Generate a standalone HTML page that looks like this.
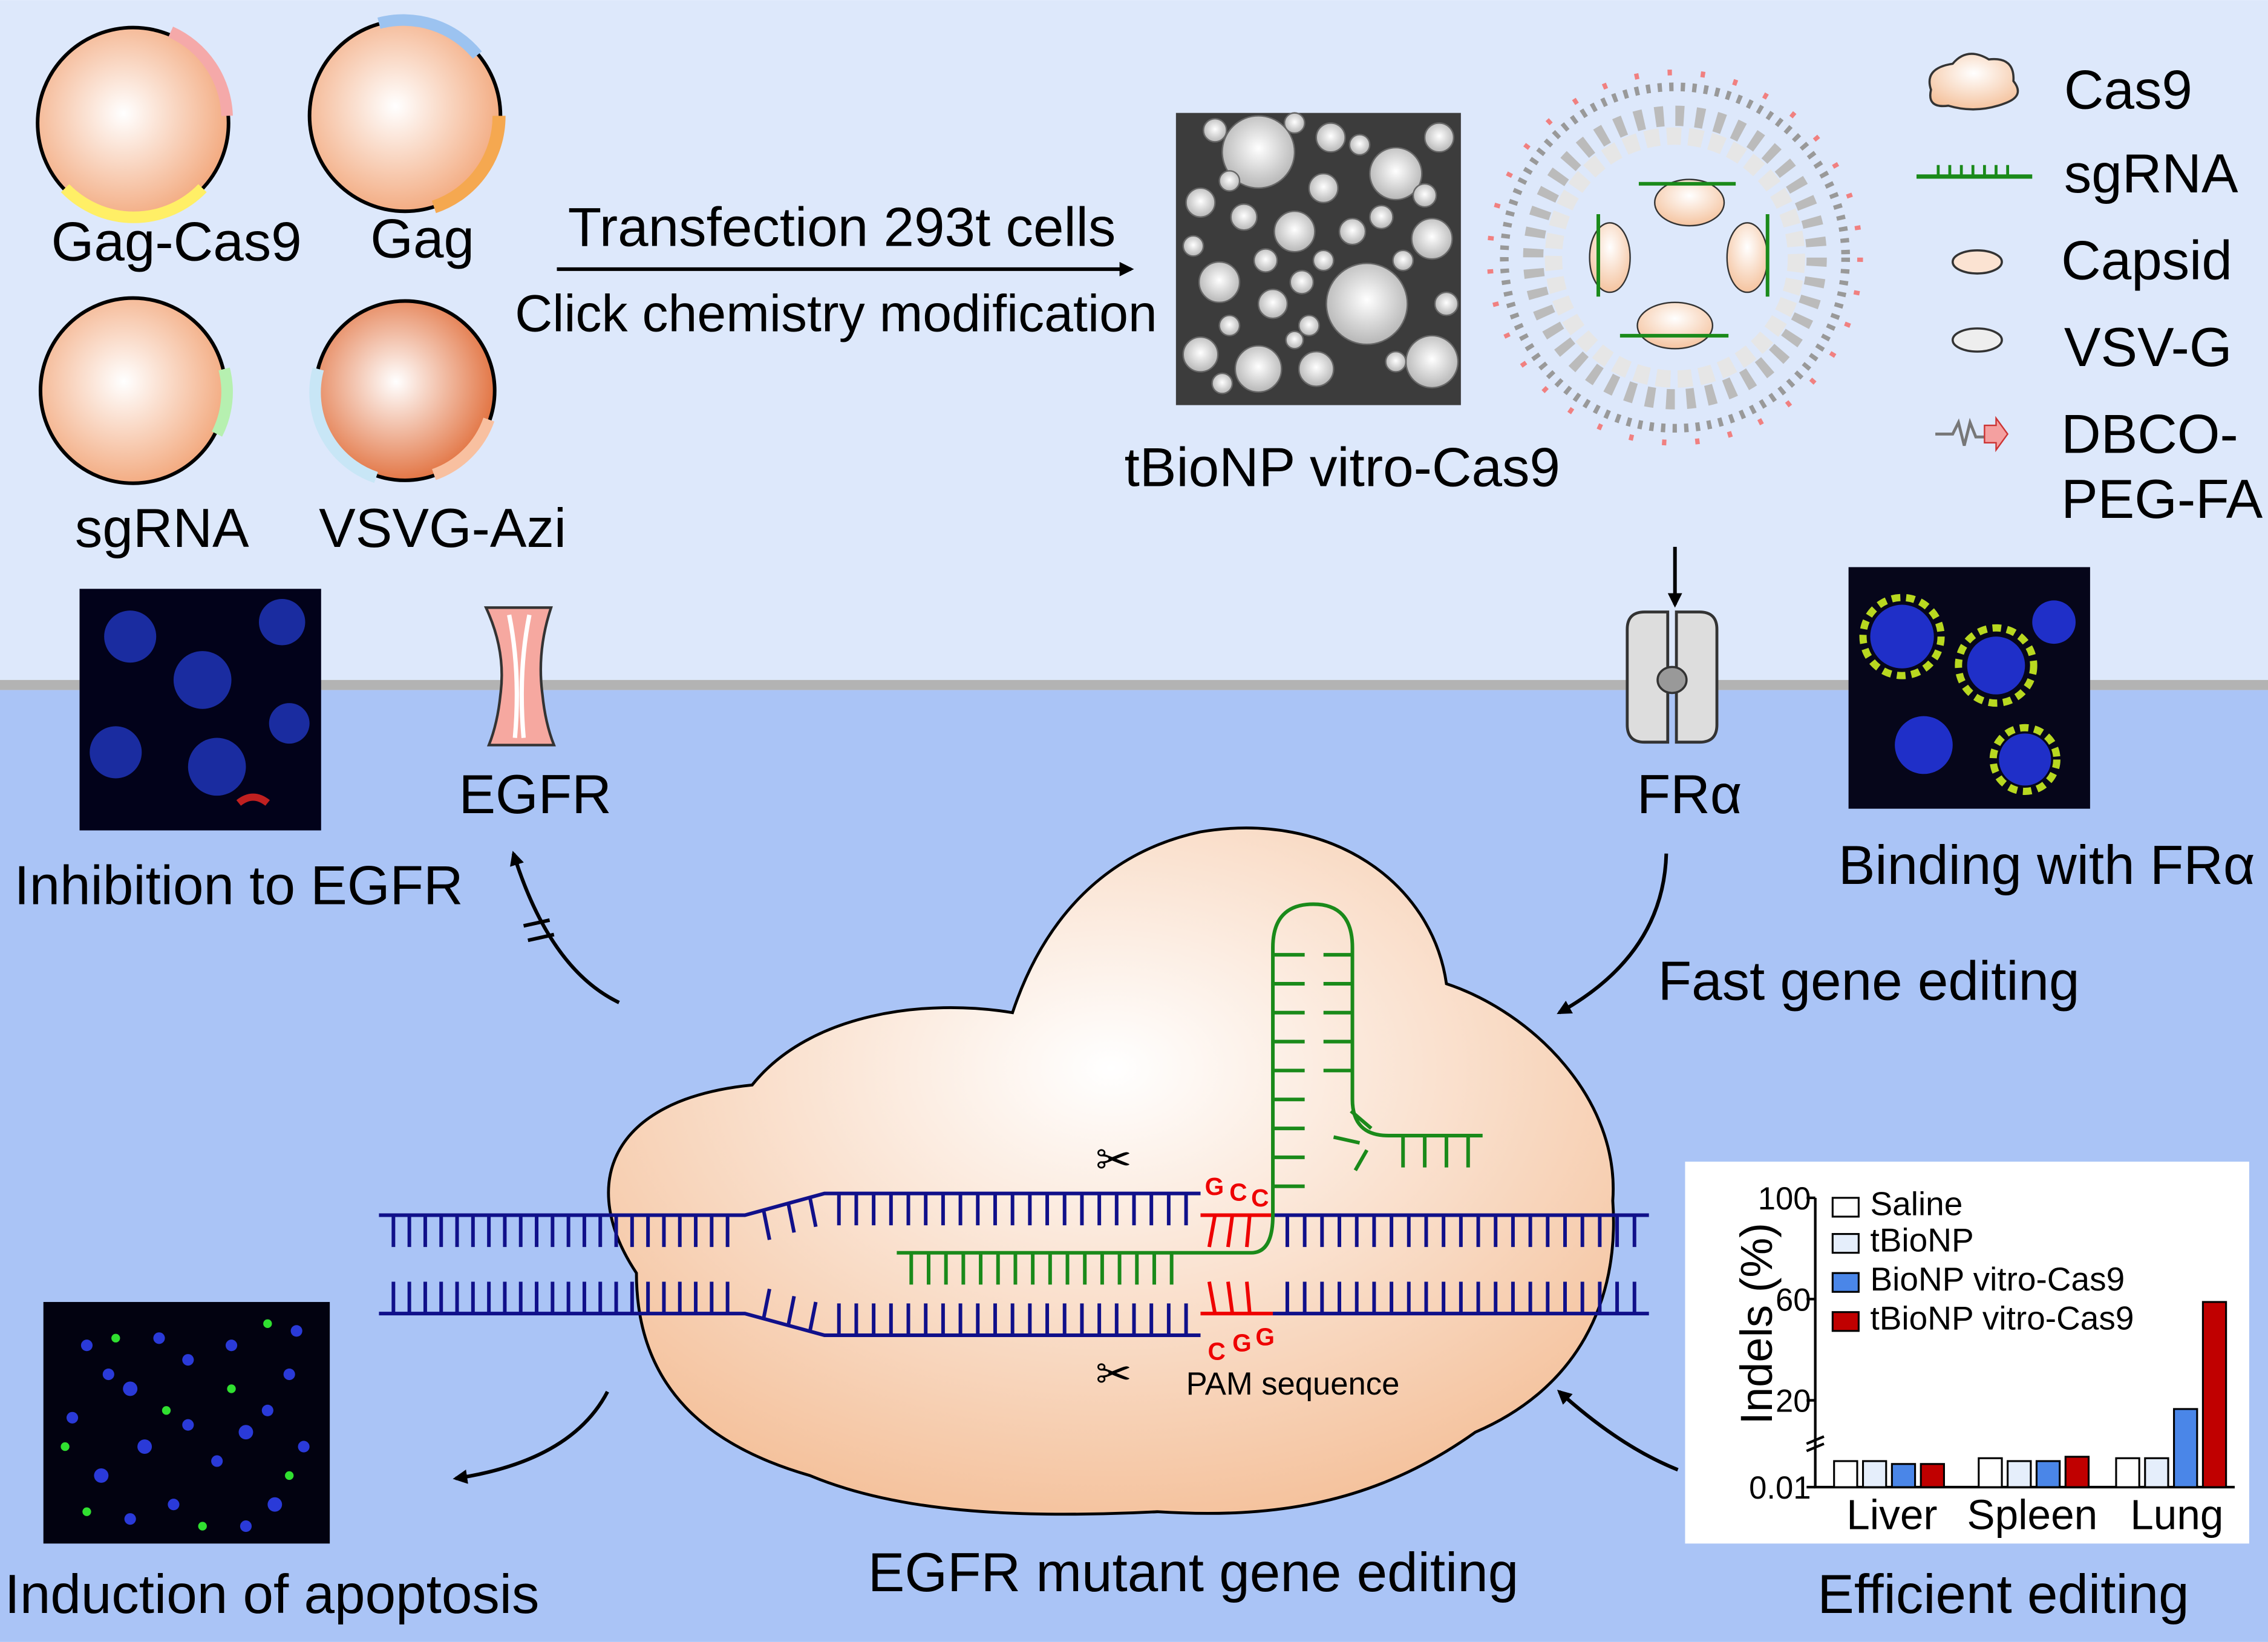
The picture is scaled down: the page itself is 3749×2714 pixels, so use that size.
<!DOCTYPE html>
<html><head><meta charset="utf-8"><style>
html,body{margin:0;padding:0;background:#fff}
svg{display:block}
text{font-family:"Liberation Sans",sans-serif;fill:#000}
</style></head><body>
<svg width="3749" height="2714" viewBox="0 0 1568 1135" xmlns="http://www.w3.org/2000/svg">
<defs>
<radialGradient id="pl" cx="0.45" cy="0.45" r="0.6"><stop offset="0" stop-color="#fff"/><stop offset="1" stop-color="#f2a578"/></radialGradient>
<radialGradient id="pl2" cx="0.45" cy="0.45" r="0.6"><stop offset="0" stop-color="#fff"/><stop offset="1" stop-color="#e06a35"/></radialGradient>
<radialGradient id="cas" cx="0.5" cy="0.35" r="0.7"><stop offset="0" stop-color="#fff"/><stop offset="1" stop-color="#f4bf98"/></radialGradient>
<radialGradient id="tem" cx="0.5" cy="0.45" r="0.6"><stop offset="0" stop-color="#ffffff"/><stop offset="1" stop-color="#b0b0b0"/></radialGradient>
<marker id="ar" markerWidth="10" markerHeight="10" refX="8" refY="5" orient="auto" markerUnits="userSpaceOnUse"><path d="M0,0 L10,5 L0,10 z" fill="#000"/></marker>
</defs>
<rect x="0" y="0" width="1568" height="470" fill="#dde8fb"/>
<rect x="0" y="470" width="1568" height="7" fill="#b3b3b3"/>
<rect x="0" y="477" width="1568" height="658" fill="#aac4f6"/>

<!-- plasmids -->
<circle cx="92" cy="85" r="66" fill="url(#pl)" stroke="#000" stroke-width="2.5"/>
<path d="M118,22 A66,66 0 0 1 157,80" stroke="#f5a9a9" stroke-width="8" fill="none"/>
<path d="M45,130 A66,66 0 0 0 140,130" stroke="#ffef66" stroke-width="8" fill="none"/>
<circle cx="280" cy="80" r="66" fill="url(#pl)" stroke="#000" stroke-width="2.5"/>
<path d="M262,16 A66,66 0 0 1 330,38" stroke="#9cc3f0" stroke-width="8" fill="none"/>
<path d="M345,80 A66,66 0 0 1 300,143" stroke="#f5a850" stroke-width="9" fill="none"/>
<circle cx="92" cy="270" r="64" fill="url(#pl)" stroke="#000" stroke-width="2.5"/>
<path d="M155,255 A64,64 0 0 1 150,300" stroke="#b6f0b0" stroke-width="8" fill="none"/>
<circle cx="280" cy="270" r="62" fill="url(#pl2)" stroke="#000" stroke-width="2.5"/>
<path d="M220,255 A62,62 0 0 0 260,330" stroke="#c8e6f6" stroke-width="8" fill="none"/>
<path d="M300,328 A62,62 0 0 0 338,290" stroke="#f8c0a0" stroke-width="8" fill="none"/>
<text x="122" y="180" font-size="38" text-anchor="middle">Gag-Cas9</text>
<text x="292" y="178" font-size="38" text-anchor="middle">Gag</text>
<text x="112" y="378" font-size="38" text-anchor="middle">sgRNA</text>
<text x="306" y="378" font-size="38" text-anchor="middle">VSVG-Azi</text>

<line x1="385" y1="186" x2="782" y2="186" stroke="#000" stroke-width="2.5" marker-end="url(#ar)"/>
<text x="582" y="170" font-size="38" text-anchor="middle">Transfection 293t cells</text>
<text x="578" y="229" font-size="36" text-anchor="middle">Click chemistry modification</text>

<!-- TEM -->
<rect x="813" y="78" width="197" height="202" fill="#3c3c3c"/>
<g fill="url(#tem)" stroke="#666" stroke-width="1">
<circle cx="870" cy="105" r="25"/><circle cx="945" cy="210" r="28"/><circle cx="965" cy="120" r="18"/><circle cx="843" cy="195" r="14"/><circle cx="895" cy="160" r="14"/><circle cx="990" cy="165" r="14"/><circle cx="830" cy="245" r="12"/><circle cx="870" cy="255" r="16"/><circle cx="990" cy="250" r="18"/><circle cx="920" cy="95" r="10"/><circle cx="910" cy="255" r="12"/><circle cx="830" cy="140" r="10"/><circle cx="860" cy="150" r="9"/><circle cx="915" cy="130" r="10"/><circle cx="995" cy="95" r="10"/><circle cx="935" cy="160" r="9"/><circle cx="880" cy="210" r="10"/><circle cx="900" cy="195" r="8"/><circle cx="970" cy="180" r="7"/><circle cx="1000" cy="210" r="8"/><circle cx="825" cy="170" r="7"/><circle cx="905" cy="225" r="7"/><circle cx="850" cy="225" r="7"/>
<circle cx="840" cy="90" r="8"/><circle cx="895" cy="85" r="7"/><circle cx="940" cy="100" r="7"/><circle cx="955" cy="150" r="8"/><circle cx="875" cy="180" r="8"/><circle cx="915" cy="180" r="7"/><circle cx="985" cy="135" r="8"/><circle cx="850" cy="125" r="7"/><circle cx="895" cy="235" r="6"/><circle cx="965" cy="250" r="7"/><circle cx="845" cy="265" r="7"/>
</g>
<text x="928" y="336" font-size="38" text-anchor="middle">tBioNP vitro-Cas9</text>

<!-- nanoparticle -->
<g fill="none">
<circle cx="1158" cy="178" r="118" stroke="#999" stroke-width="6" stroke-dasharray="3 5"/>
<circle cx="1158" cy="178" r="98" stroke="#bbb" stroke-width="14" stroke-dasharray="6 8"/>
<circle cx="1158" cy="178" r="84" stroke="#e6e6e6" stroke-width="12" stroke-dasharray="10 5"/>
<circle cx="1158" cy="178" r="128" stroke="#f08080" stroke-width="4" stroke-dasharray="3 20"/>
</g>
<g fill="url(#cas)" stroke="#333" stroke-width="1">
<ellipse cx="1168" cy="140" rx="24" ry="16"/><ellipse cx="1158" cy="225" rx="26" ry="16"/>
<ellipse cx="1113" cy="178" rx="14" ry="24"/><ellipse cx="1208" cy="178" rx="14" ry="24"/>
</g>
<g stroke="#1a8a1a" stroke-width="2.5">
<line x1="1133" y1="127" x2="1200" y2="127"/><line x1="1120" y1="232" x2="1195" y2="232"/>
<line x1="1105" y1="148" x2="1105" y2="205"/><line x1="1222" y1="148" x2="1222" y2="205"/>
</g>

<!-- legend -->
<path d="M1335,62 q-5,-15 15,-18 q10,-12 25,-3 q18,-2 17,15 q8,10 -5,15 q-20,8 -40,2 q-15,2 -12,-11z" fill="url(#cas)" stroke="#333" stroke-width="1.5"/>
<text x="1427" y="75" font-size="38">Cas9</text>
<line x1="1325" y1="122" x2="1405" y2="122" stroke="#1a8a1a" stroke-width="3"/>
<path d="M1340,122 v-8 M1348,122 v-8 M1356,122 v-8 M1364,122 v-8 M1372,122 v-8 M1380,122 v-8 M1388,122 v-8" stroke="#1a8a1a" stroke-width="2"/>
<text x="1427" y="133" font-size="38">sgRNA</text>
<ellipse cx="1367" cy="181" rx="17" ry="8" fill="#fbe3d2" stroke="#333" stroke-width="1.5"/>
<text x="1425" y="193" font-size="38">Capsid</text>
<ellipse cx="1367" cy="235" rx="17" ry="8" fill="#eee" stroke="#333" stroke-width="1.5"/>
<text x="1427" y="253" font-size="38">VSV-G</text>
<path d="M1338,300 h12 l4,-8 l4,16 l4,-16 l4,10 h6" stroke="#777" stroke-width="2" fill="none"/>
<path d="M1372,294 h8 v-5 l8,11 l-8,11 v-5 h-8z" fill="#f4a0a0" stroke="#c33" stroke-width="1"/>
<text x="1425" y="313" font-size="38">DBCO-</text>
<text x="1425" y="358" font-size="38">PEG-FA</text>

<line x1="1158" y1="378" x2="1158" y2="418" stroke="#000" stroke-width="2.5" marker-end="url(#ar)"/>

<!-- FR alpha -->
<path d="M1125,435 q0,-12 12,-12 h16 v90 h-16 q-12,0 -12,-12z" fill="#ddd" stroke="#333" stroke-width="2"/>
<path d="M1187,435 q0,-12 -12,-12 h-16 v90 h16 q12,0 12,-12z" fill="#ddd" stroke="#333" stroke-width="2"/>
<ellipse cx="1156" cy="470" rx="10" ry="9" fill="#999" stroke="#333" stroke-width="1.5"/>
<text x="1168" y="562" font-size="38" text-anchor="middle">FRα</text>
<rect x="1278" y="392" width="167" height="167" fill="#06061a"/>
<g fill="#1f2fc8"><circle cx="1315" cy="440" r="22"/><circle cx="1380" cy="460" r="20"/><circle cx="1330" cy="515" r="20"/><circle cx="1400" cy="525" r="18"/><circle cx="1420" cy="430" r="15"/></g>
<g stroke="#b8d820" stroke-width="5" fill="none" stroke-dasharray="6 4"><circle cx="1380" cy="460" r="26"/><circle cx="1315" cy="440" r="27"/><circle cx="1400" cy="525" r="22"/></g>
<text x="1415" y="611" font-size="38" text-anchor="middle">Binding with FRα</text>

<!-- left image + EGFR -->
<rect x="55" y="407" width="167" height="167" fill="#02021a"/>
<g fill="#1a2ca0"><circle cx="90" cy="440" r="18"/><circle cx="140" cy="470" r="20"/><circle cx="195" cy="430" r="16"/><circle cx="80" cy="520" r="18"/><circle cx="150" cy="530" r="20"/><circle cx="200" cy="500" r="14"/></g>
<path d="M165,555 q10,-8 20,0" stroke="#c02020" stroke-width="5" fill="none"/>
<path d="M336,420 h45 q-10,30 -6,60 q2,20 8,35 h-45 q6,-15 8,-35 q4,-30 -10,-60z" fill="#f6a8a0" stroke="#333" stroke-width="1.8"/>
<path d="M352,425 q8,40 4,85 M366,425 q-8,40 -4,85" stroke="#fff" stroke-width="3" fill="none"/>
<text x="370" y="562" font-size="38" text-anchor="middle">EGFR</text>
<text x="165" y="625" font-size="38" text-anchor="middle">Inhibition to EGFR</text>
<path d="M428,693 Q380,670 355,590" stroke="#000" stroke-width="2.5" fill="none" marker-end="url(#ar)"/>
<line x1="362" y1="640" x2="380" y2="636" stroke="#000" stroke-width="2.5"/>
<line x1="365" y1="650" x2="383" y2="646" stroke="#000" stroke-width="2.5"/>

<path d="M1152,590 Q1150,660 1078,700" stroke="#000" stroke-width="2.5" fill="none" marker-end="url(#ar)"/>
<text x="1292" y="691" font-size="38" text-anchor="middle">Fast gene editing</text>

<!-- Cas9 big -->
<path d="M440,880 C400,820 420,760 520,750 C560,700 640,690 700,700 C720,640 760,590 830,575 C920,560 990,610 1000,680 C1060,700 1120,760 1115,830 C1120,900 1090,960 1020,990 C950,1040 880,1050 800,1045 C700,1050 620,1045 560,1020 C490,1000 440,960 440,880z" fill="url(#cas)" stroke="#000" stroke-width="2"/>

<!-- DNA -->
<g stroke="#10108a" stroke-width="2.5" fill="none">
<path d="M262,840 H515 L570,825 H830"/><path d="M880,840 H1140"/>
<path d="M262,908 H515 L570,923 H830"/><path d="M880,908 H1140"/>
<path d="M272,840 v22 M283,840 v22 M294,840 v22 M305,840 v22 M316,840 v22 M327,840 v22 M338,840 v22 M349,840 v22 M360,840 v22 M371,840 v22 M382,840 v22 M393,840 v22 M404,840 v22 M415,840 v22 M426,840 v22 M437,840 v22 M448,840 v22 M459,840 v22 M470,840 v22 M481,840 v22 M492,840 v22 M503,840 v22"/>
<path d="M272,908 v-22 M283,908 v-22 M294,908 v-22 M305,908 v-22 M316,908 v-22 M327,908 v-22 M338,908 v-22 M349,908 v-22 M360,908 v-22 M371,908 v-22 M382,908 v-22 M393,908 v-22 M404,908 v-22 M415,908 v-22 M426,908 v-22 M437,908 v-22 M448,908 v-22 M459,908 v-22 M470,908 v-22 M481,908 v-22 M492,908 v-22 M503,908 v-22"/>
<path d="M528,837 l4,20 M545,832 l4,20 M560,828 l4,20 M528,911 l4,-20 M545,916 l4,-20 M560,920 l4,-20"/>
<path d="M580,825 v22 M592,825 v22 M604,825 v22 M616,825 v22 M628,825 v22 M640,825 v22 M652,825 v22 M664,825 v22 M676,825 v22 M688,825 v22 M700,825 v22 M712,825 v22 M724,825 v22 M736,825 v22 M748,825 v22 M760,825 v22 M772,825 v22 M784,825 v22 M796,825 v22 M808,825 v22 M820,825 v22"/>
<path d="M580,923 v-22 M592,923 v-22 M604,923 v-22 M616,923 v-22 M628,923 v-22 M640,923 v-22 M652,923 v-22 M664,923 v-22 M676,923 v-22 M688,923 v-22 M700,923 v-22 M712,923 v-22 M724,923 v-22 M736,923 v-22 M748,923 v-22 M760,923 v-22 M772,923 v-22 M784,923 v-22 M796,923 v-22 M808,923 v-22 M820,923 v-22"/>
<path d="M890,840 v22 M902,840 v22 M914,840 v22 M926,840 v22 M938,840 v22 M950,840 v22 M962,840 v22 M974,840 v22 M986,840 v22 M998,840 v22 M1010,840 v22 M1022,840 v22 M1034,840 v22 M1046,840 v22 M1058,840 v22 M1070,840 v22 M1082,840 v22 M1094,840 v22 M1106,840 v22 M1118,840 v22 M1130,840 v22"/>
<path d="M890,908 v-22 M902,908 v-22 M914,908 v-22 M926,908 v-22 M938,908 v-22 M950,908 v-22 M962,908 v-22 M974,908 v-22 M986,908 v-22 M998,908 v-22 M1010,908 v-22 M1022,908 v-22 M1034,908 v-22 M1046,908 v-22 M1058,908 v-22 M1070,908 v-22 M1082,908 v-22 M1094,908 v-22 M1106,908 v-22 M1118,908 v-22 M1130,908 v-22"/>
</g>
<g stroke="#e00" stroke-width="2.5" fill="none">
<path d="M830,840 H880 M830,908 H880 M840,840 l-4,22 M852,840 l-3,22 M864,840 l-2,22 M840,908 l-4,-22 M852,908 l-3,-22 M864,908 l-2,-22"/>
</g>
<text x="833" y="826" font-size="17" font-weight="bold" style="fill:#e00">G</text>
<text x="850" y="830" font-size="17" style="fill:#e00" font-weight="bold">C</text>
<text x="865" y="834" font-size="17" style="fill:#e00" font-weight="bold">C</text>
<text x="835" y="940" font-size="17" style="fill:#e00" font-weight="bold">C</text>
<text x="852" y="934" font-size="17" style="fill:#e00" font-weight="bold">G</text>
<text x="868" y="930" font-size="17" style="fill:#e00" font-weight="bold">G</text>
<text x="820" y="964" font-size="22">PAM sequence</text>
<g stroke="#1a8a1a" stroke-width="2.5" fill="none">
<path d="M620,866 H865 Q880,866 880,840 V655 Q880,625 908,625 Q935,625 935,655 V760 Q935,785 960,785 H1025"/>
<path d="M630,866 v22 M642,866 v22 M654,866 v22 M666,866 v22 M678,866 v22 M690,866 v22 M702,866 v22 M714,866 v22 M726,866 v22 M738,866 v22 M750,866 v22 M762,866 v22 M774,866 v22 M786,866 v22 M798,866 v22 M810,866 v22"/>
<path d="M880,660 h22 M880,680 h22 M880,700 h22 M880,720 h22 M880,740 h22 M880,760 h22 M880,780 h22 M880,800 h22 M880,820 h22"/>
<path d="M935,660 h-20 M935,680 h-20 M935,700 h-20 M935,720 h-20 M935,740 h-20"/>
<path d="M948,780 l-14,-12 M940,790 l-18,-4 M945,795 l-8,14 M970,785 v22 M985,785 v22 M1000,785 v22 M1015,785 v22"/>
</g>
<text x="770" y="812" font-size="30" text-anchor="middle">✂</text>
<text x="770" y="960" font-size="30" text-anchor="middle">✂</text>
<text x="825" y="1100" font-size="38" text-anchor="middle">EGFR mutant gene editing</text>

<!-- bottom left -->
<rect x="30" y="900" width="198" height="167" fill="#020210"/>
<g fill="#2a3ad8">
<circle cx="60" cy="930" r="4"/><circle cx="90" cy="960" r="5"/><circle cx="130" cy="940" r="4"/><circle cx="170" cy="990" r="5"/><circle cx="200" cy="950" r="4"/><circle cx="70" cy="1020" r="5"/><circle cx="120" cy="1040" r="4"/><circle cx="190" cy="1040" r="5"/><circle cx="150" cy="1010" r="4"/><circle cx="50" cy="980" r="4"/><circle cx="210" cy="1000" r="4"/><circle cx="100" cy="1000" r="5"/>
<circle cx="75" cy="950" r="4"/><circle cx="110" cy="925" r="4"/><circle cx="160" cy="930" r="4"/><circle cx="185" cy="975" r="4"/><circle cx="130" cy="985" r="4"/><circle cx="90" cy="1050" r="4"/><circle cx="170" cy="1055" r="4"/><circle cx="205" cy="920" r="4"/>
</g>
<g fill="#30e030">
<circle cx="80" cy="925" r="3"/><circle cx="115" cy="975" r="3"/><circle cx="160" cy="960" r="3"/><circle cx="60" cy="1045" r="3"/><circle cx="200" cy="1020" r="3"/><circle cx="140" cy="1055" r="3"/><circle cx="185" cy="915" r="3"/><circle cx="45" cy="1000" r="3"/>
</g>
<path d="M420,962 Q395,1010 315,1022" stroke="#000" stroke-width="2.5" fill="none" marker-end="url(#ar)"/>
<text x="188" y="1115" font-size="38" text-anchor="middle">Induction of apoptosis</text>

<!-- chart -->
<path d="M1160,1016 Q1120,1000 1078,962" stroke="#000" stroke-width="2.5" fill="none" marker-end="url(#ar)"/>
<rect x="1165" y="803" width="390" height="264" fill="#fff"/>
<g stroke="#000" stroke-width="1.8" fill="none">
<path d="M1255,828 V1028 H1545"/>
<path d="M1255,828 h-6 M1255,898 h-6 M1255,968 h-6 M1255,1028 h-6"/>
<path d="M1249,998 l12,-5 M1249,1003 l12,-5"/>
</g>
<text x="1252" y="836" font-size="22" text-anchor="end">100</text>
<text x="1252" y="906" font-size="22" text-anchor="end">60</text>
<text x="1252" y="976" font-size="22" text-anchor="end">20</text>
<text x="1252" y="1036" font-size="22" text-anchor="end">0.01</text>
<text transform="translate(1225,915) rotate(-90)" font-size="31" text-anchor="middle">Indels (%)</text>
<g stroke="#000" stroke-width="1.3">
<rect x="1267" y="828" width="18" height="13" fill="#fff"/><rect x="1267" y="853" width="18" height="13" fill="#e5eefb"/>
<rect x="1267" y="880" width="18" height="13" fill="#4a86e8"/><rect x="1267" y="907" width="18" height="13" fill="#c00000"/>
</g>
<text x="1293" y="840" font-size="23">Saline</text>
<text x="1293" y="865" font-size="23">tBioNP</text>
<text x="1293" y="892" font-size="23">BioNP vitro-Cas9</text>
<text x="1293" y="919" font-size="23">tBioNP vitro-Cas9</text>
<g stroke="#000" stroke-width="1.3">
<rect x="1268" y="1010" width="16" height="18" fill="#fff"/><rect x="1288" y="1010" width="16" height="18" fill="#e5eefb"/><rect x="1308" y="1012" width="16" height="16" fill="#4a86e8"/><rect x="1328" y="1012" width="16" height="16" fill="#c00000"/>
<rect x="1368" y="1008" width="16" height="20" fill="#fff"/><rect x="1388" y="1010" width="16" height="18" fill="#e5eefb"/><rect x="1408" y="1010" width="16" height="18" fill="#4a86e8"/><rect x="1428" y="1007" width="16" height="21" fill="#c00000"/>
<rect x="1463" y="1008" width="16" height="20" fill="#fff"/><rect x="1483" y="1008" width="16" height="20" fill="#e5eefb"/><rect x="1503" y="974" width="16" height="54" fill="#4a86e8"/><rect x="1523" y="900" width="16" height="128" fill="#c00000"/>
</g>
<text x="1308" y="1057" font-size="29" text-anchor="middle">Liver</text>
<text x="1405" y="1057" font-size="29" text-anchor="middle">Spleen</text>
<text x="1505" y="1057" font-size="29" text-anchor="middle">Lung</text>
<text x="1385" y="1115" font-size="38" text-anchor="middle">Efficient editing</text>
</svg>
</body></html>
